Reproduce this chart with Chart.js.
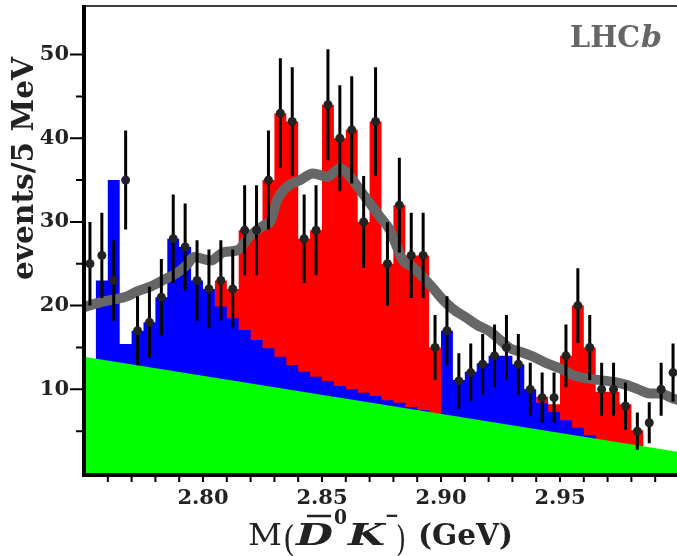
<!DOCTYPE html>
<html>
<head>
<meta charset="utf-8">
<script src="https://cdn.jsdelivr.net/npm/chart.js@4.4.1/dist/chart.umd.min.js"></script>
<style>
  html, body { margin: 0; padding: 0; background: #fff; overflow: hidden; }
  canvas { display: block; }
</style>
</head>
<body>
<canvas id="massChart" width="690" height="556"></canvas>
<script>
// bin centres in GeV (5 MeV bins)
const massBins = [
  2.7525, 2.7575, 2.7625, 2.7675, 2.7725, 2.7775, 2.7825, 2.7875, 2.7925, 2.7975,
  2.8025, 2.8075, 2.8125, 2.8175, 2.8225, 2.8275, 2.8325, 2.8375, 2.8425, 2.8475,
  2.8525, 2.8575, 2.8625, 2.8675, 2.8725, 2.8775, 2.8825, 2.8875, 2.8925, 2.8975,
  2.9025, 2.9075, 2.9125, 2.9175, 2.9225, 2.9275, 2.9325, 2.9375, 2.9425, 2.9475,
  2.9525, 2.9575, 2.9625, 2.9675, 2.9725, 2.9775, 2.9825, 2.9875, 2.9925, 2.9975
];
// data points (events per bin)
const events = [
  25, 26, 23, 35, 17, 18, 21, 28, 27, 23,
  22, 23, 22, 29, 29, 35, 43, 42, 28, 29,
  44, 40, 41, 30, 42, 25, 32, 26, 26, 15,
  17, 11, 12, 13, 14, 15, 13, 10, 9, 9,
  14, 20, 15, 10, 10, 8, 5, 6, 10, 12
];
// red histogram (top of bar)
const redTop = [
  0, 0, 0, 0, 0, 0, 0, 0, 0, 0,
  0, 23, 22, 29, 29, 35, 43, 42, 28, 29,
  44, 40, 41, 30, 42, 25, 32, 26, 26, 15,
  0, 0, 0, 0, 0, 0, 0, 0, 9.1, 8.2,
  14, 20, 15, 9.7, 9.7, 8.2, 5.1, 0, 0, 0
];
// blue histogram (top of bar)
const blueTop = [
  0, 23, 35, 15.4, 17, 18, 21, 28, 27, 23,
  22, 19.9, 18.5, 17.1, 15.9, 14.9, 13.9, 12.9, 12.1, 11.5,
  11.0, 10.4, 10.0, 9.6, 9.2, 8.7, 8.4, 7.9, 7.5, 0,
  17, 11.1, 12.1, 13.1, 14, 14, 13, 10, 8.4, 7.3,
  6.3, 5.4, 4.5, 0, 0, 0, 0, 0, 0, 0
];
// green linear background, ends of the range
const bkgMass = [2.75, 3.0];
const bkgLevel = [13.9, 2.5];
// total fit curve
const fitMass = [
  2.7500, 2.7520, 2.7584, 2.7680, 2.7723, 2.7782, 2.7836, 2.7891, 2.7933, 2.7962,
  2.8032, 2.8088, 2.8144, 2.8200, 2.8256, 2.8284, 2.8311, 2.8353, 2.8408, 2.8462,
  2.8521, 2.8576, 2.8618, 2.8660, 2.8702, 2.8744, 2.8786, 2.8815, 2.8840, 2.8882,
  2.8924, 2.8966, 2.9008, 2.9050, 2.9109, 2.9151, 2.9206, 2.9248, 2.9290, 2.9332,
  2.9387, 2.9445, 2.9500, 2.9555, 2.9613, 2.9668, 2.9723, 2.9782, 2.9836, 2.9878,
  2.9920, 2.9975, 3.0000
];
const fitLevel = [
  19.8, 20.0, 20.5, 21.1, 21.7, 22.3, 23.1, 23.9, 24.9, 25.8,
  25.4, 26.4, 26.6, 28.4, 29.6, 30.1, 32.6, 34.2, 35.0, 35.8,
  35.4, 36.4, 35.4, 33.8, 32.2, 30.6, 29.0, 27.0, 25.4, 24.6,
  23.4, 22.1, 20.7, 19.6, 18.5, 17.7, 16.9, 15.9, 14.9, 14.5,
  13.9, 13.1, 12.5, 11.7, 11.3, 11.1, 10.9, 10.5, 9.9, 9.5,
  9.5, 8.9, 8.7
];
const massTicks = [2.80, 2.85, 2.90, 2.95];
const countTicks = [10, 20, 30, 40, 50];

const halfBin = (massBins[1] - massBins[0]) / 2;

// histogram as a stepped outline: left edges + closing right edge
function steps(values) {
  const pts = massBins.map((m, i) => ({ x: m - halfBin, y: values[i] }));
  pts.push({ x: massBins[massBins.length - 1] + halfBin, y: values[values.length - 1] });
  return pts;
}

// vertical error bars, sqrt(N), broken with null
const errorSegs = [];
massBins.forEach((m, i) => {
  const e = Math.sqrt(events[i]);
  errorSegs.push({ x: m, y: events[i] - e }, { x: m, y: events[i] + e }, { x: m, y: null });
});

const serif = 'DejaVu Serif';

function fitText(ctx, str, font, x0, x1, base) {
  ctx.font = font;
  const w = ctx.measureText(str).width;
  ctx.save();
  ctx.translate(x0, base);
  ctx.scale((x1 - x0) / w, 1);
  ctx.fillText(str, 0, 0);
  ctx.restore();
}

const frame = {
  id: 'frame',
  afterDraw(chart) {
    const { ctx, chartArea: a, scales: { x, y } } = chart;
    ctx.save();
    ctx.strokeStyle = '#000';
    ctx.lineWidth = 2;
    ctx.beginPath();
    y.ticks.forEach(t => {
      const v = t.value;
      if (v <= 0 || v > 50 || v % 5 !== 0) return;
      const py = y.getPixelForValue(v);
      const len = v % 10 === 0 ? 12 : 6;
      ctx.moveTo(a.left - 2 - len, py);
      ctx.lineTo(a.left, py);
    });
    x.ticks.forEach(t => {
      if (t.value < 2.755 || t.value > 2.995) return;
      const px = x.getPixelForValue(t.value);
      ctx.moveTo(px, a.bottom);
      ctx.lineTo(px, a.bottom + 9);
    });
    ctx.stroke();

    ctx.lineWidth = 1.5;
    ctx.beginPath();
    ctx.moveTo(a.left, a.top);
    ctx.lineTo(a.right, a.top);
    ctx.lineTo(a.right, a.bottom);
    ctx.stroke();

    ctx.lineWidth = 4;
    ctx.beginPath();
    ctx.moveTo(a.left, a.top - 1);
    ctx.lineTo(a.left, a.bottom + 2);
    ctx.lineTo(a.right, a.bottom + 2);
    ctx.stroke();

    // titles
    ctx.fillStyle = '#222';
    ctx.textAlign = 'left';
    ctx.textBaseline = 'alphabetic';

    ctx.save();
    ctx.translate(33, 280);
    ctx.rotate(-Math.PI / 2);
    fitText(ctx, 'events/5 MeV', `bold 29px "${serif}"`, 0, 223, 0);
    ctx.restore();

    fitText(ctx, 'M', `30px "${serif}"`, 248, 282, 545);
    fitText(ctx, '(', `36px "${serif}"`, 283, 295, 551);
    fitText(ctx, 'D', `italic bold 30px "${serif}"`, 296, 333, 545);
    fitText(ctx, '0', `bold 20px "${serif}"`, 334, 347, 524);
    fitText(ctx, 'K', `italic bold 30px "${serif}"`, 348, 385, 545);
    fitText(ctx, '\u2212', `bold 20px "${serif}"`, 385, 399, 522);
    fitText(ctx, ')', `36px "${serif}"`, 396, 406, 551);
    fitText(ctx, '(GeV)', `bold 30px "${serif}"`, 418, 513, 545);
    ctx.lineWidth = 2.5;
    ctx.strokeStyle = '#222';
    ctx.beginPath();
    ctx.moveTo(307, 516);
    ctx.lineTo(331, 516);
    ctx.stroke();

    ctx.fillStyle = '#666';
    fitText(ctx, 'LHC', `bold 29px "${serif}"`, 570, 640, 47);
    fitText(ctx, 'b', `italic bold 29px "${serif}"`, 641, 662, 47);
    ctx.restore();
  }
};

new Chart(document.getElementById('massChart'), {
  type: 'line',
  data: {
    datasets: [
      {
        data: massBins.map((m, i) => ({ x: m, y: events[i] })),
        showLine: false,
        pointRadius: 4.5,
        pointBackgroundColor: '#222',
        pointBorderWidth: 0,
        order: 0
      },
      {
        data: errorSegs,
        borderColor: '#000',
        borderWidth: 3,
        pointRadius: 0,
        spanGaps: false,
        order: 1
      },
      {
        data: fitMass.map((m, i) => ({ x: m, y: fitLevel[i] })),
        borderColor: '#666',
        borderWidth: 10,
        cubicInterpolationMode: 'monotone',
        pointRadius: 0,
        clip: 0,
        order: 2
      },
      {
        data: bkgMass.map((m, i) => ({ x: m, y: bkgLevel[i] })),
        borderColor: 'rgba(0,0,0,0)',
        borderWidth: 0,
        backgroundColor: '#00ff00',
        fill: 'origin',
        pointRadius: 0,
        order: 3
      },
      {
        data: steps(blueTop),
        stepped: 'before',
        borderColor: 'rgba(0,0,0,0)',
        borderWidth: 0,
        backgroundColor: '#0000ff',
        fill: 'origin',
        pointRadius: 0,
        order: 4
      },
      {
        data: steps(redTop),
        stepped: 'before',
        borderColor: 'rgba(0,0,0,0)',
        borderWidth: 0,
        backgroundColor: '#ff0000',
        fill: 'origin',
        pointRadius: 0,
        order: 5
      }
    ]
  },
  options: {
    responsive: false,
    animation: false,
    layout: { autoPadding: false, padding: { left: 0, right: 11, top: 6, bottom: 0 } },
    plugins: {
      legend: { display: false },
      tooltip: { enabled: false }
    },
    scales: {
      x: {
        type: 'linear',
        min: 2.75,
        max: 3.0,
        grid: { display: false, drawTicks: false },
        border: { display: false },
        afterFit: s => { s.height = 83; s.paddingLeft = 0; s.paddingRight = 0; },
        ticks: {
          stepSize: 0.01,
          maxTicksLimit: 40,
          autoSkip: false,
          maxRotation: 0,
          padding: 13,
          color: '#222',
          font: { family: serif, size: 21, weight: 'bold' },
          callback: v => {
            const r = Math.round(v * 100) / 100;
            return massTicks.includes(r) ? r.toFixed(2) : '';
          }
        }
      },
      y: {
        type: 'linear',
        min: 0,
        max: 55.8,
        grid: { display: false, drawTicks: false },
        border: { display: false },
        afterFit: s => { s.width = 84; s.paddingTop = 0; s.paddingBottom = 0; },
        ticks: {
          stepSize: 5,
          autoSkip: false,
          padding: 15,
          color: '#222',
          font: { family: serif, size: 21, weight: 'bold' },
          callback: v => countTicks.includes(v) ? String(v) : ''
        }
      }
    }
  },
  plugins: [frame]
});
</script>
</body>
</html>
